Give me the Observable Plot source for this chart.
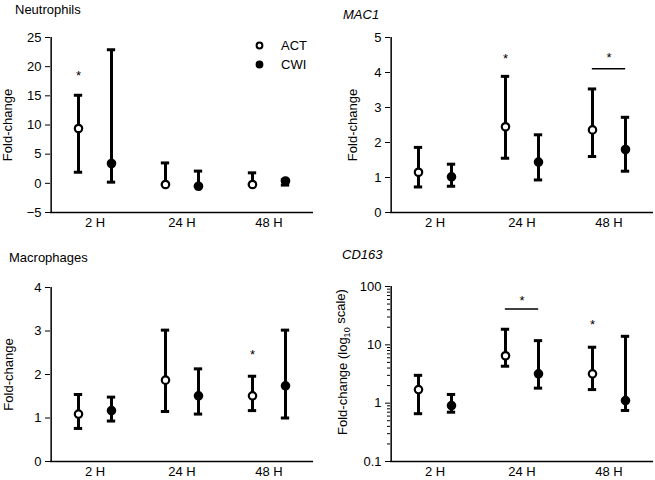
<!DOCTYPE html>
<html><head><meta charset="utf-8">
<script src="https://cdn.jsdelivr.net/npm/d3@7"></script>
<script src="https://cdn.jsdelivr.net/npm/@observablehq/plot@0.6"></script>
<style>
body{margin:0;background:#fff;font-family:"Liberation Sans",Arial,sans-serif;}
#chart{position:relative;width:655px;height:480px;overflow:hidden;}
.panel{position:absolute;}
.title{position:absolute;font-size:13px;line-height:15px;color:#000;white-space:nowrap;}
.legend{position:absolute;font-size:13px;color:#000;}
.legend div{display:flex;align-items:center;height:19px;}
.legend svg{margin-right:17px;}
</style></head><body><div id="chart"></div>
<script>
const groups = ["2 H", "24 H", "48 H"];
const seriesNames = ["ACT", "CWI"];

// Neutrophils (fold-change)
const neuActMean = [9.4, -0.2, -0.2];
const neuActLow  = [1.9, -0.2, -0.2];
const neuActHigh = [15.1, 3.5, 1.8];
const neuCwiMean = [3.4, -0.5, 0.4];
const neuCwiLow  = [0.2, -0.5, -0.3];
const neuCwiHigh = [22.9, 2.1, 0.6];
const neuStars = [{group: "2 H", series: "ACT", y: 19}];
const neuBars = [];

// MAC1
const macActMean = [1.15, 2.45, 2.36];
const macActLow  = [0.73, 1.55, 1.6];
const macActHigh = [1.86, 3.89, 3.53];
const macCwiMean = [1.02, 1.44, 1.8];
const macCwiLow  = [0.75, 0.93, 1.18];
const macCwiHigh = [1.38, 2.22, 2.72];
const macStars = [{group: "24 H", series: "ACT", y: 4.48}, {group: "48 H", series: "both", y: 4.5}];
const macBars = [{group: "48 H", y: 4.11}];

// Macrophages
const mphActMean = [1.09, 1.87, 1.51];
const mphActLow  = [0.76, 1.15, 1.17];
const mphActHigh = [1.54, 3.02, 1.96];
const mphCwiMean = [1.17, 1.51, 1.74];
const mphCwiLow  = [0.93, 1.09, 1.0];
const mphCwiHigh = [1.48, 2.13, 3.02];
const mphStars = [{group: "48 H", series: "ACT", y: 2.52}];
const mphBars = [];

// CD163 (log scale)
const cdActMean = [1.71, 6.5, 3.18];
const cdActLow  = [0.66, 4.3, 1.71];
const cdActHigh = [3.0, 18.5, 9.1];
const cdCwiMean = [0.91, 3.18, 1.11];
const cdCwiLow  = [0.70, 1.81, 0.75];
const cdCwiHigh = [1.41, 11.8, 14.0];
const cdStars = [{group: "24 H", series: "both", y: 65}, {group: "48 H", series: "ACT", y: 25}];
const cdBars = [{group: "24 H", y: 41}];

const linTicksNeu = [-5, 0, 5, 10, 15, 20, 25];
const linTicksMac = [0, 1, 2, 3, 4, 5];
const linTicksMph = [0, 1, 2, 3, 4];
const logTicks = [0.1, 1, 10, 100];
const logMinor = [0.2,0.3,0.4,0.5,0.6,0.7,0.8,0.9,2,3,4,5,6,7,8,9,20,30,40,50,60,70,80,90];

function rowsFrom(am, al, ah, cm, cl, ch) {
  const rows = [];
  groups.forEach((g, i) => {
    rows.push({group: g, series: "ACT", mean: am[i], low: al[i], high: ah[i]});
    rows.push({group: g, series: "CWI", mean: cm[i], low: cl[i], high: ch[i]});
  });
  return rows;
}

const OFF = {ACT: -16.5, CWI: 16.5, both: 0};
const intFmt = d => d < 0 ? "\u2212" + Math.abs(d) : String(d);

function panel(cfg) {
  const {width, height, ml, mr, mt, mb, yDomain, yType, ticks, minor, tickFormat, label, labelOffset, rows, stars, bars} = cfg;
  const bw = (width - ml - mr) / 3;
  const marks = [];
  marks.push(Plot.ruleY([yDomain[0]], {strokeWidth: 1.5}));
  marks.push(Plot.ruleX([groups[0]], {x: d => d, y1: yDomain[0], y2: yDomain[1], dx: -bw / 2, strokeWidth: 1.5}));
  for (const s of seriesNames) {
    const d = rows.filter(r => r.series === s);
    const dx = OFF[s];
    const capInset = (bw - 9) / 2;
    marks.push(Plot.ruleX(d, {x: "group", y1: "low", y2: "high", dx, strokeWidth: 3}));
    marks.push(Plot.tickY(d, {x: "group", y: "high", dx, insetLeft: capInset, insetRight: capInset, strokeWidth: 3}));
    marks.push(Plot.tickY(d, {x: "group", y: "low", dx, insetLeft: capInset, insetRight: capInset, strokeWidth: 3}));
    marks.push(Plot.dot(d, {x: "group", y: "mean", dx, r: 3.7, stroke: "black", strokeWidth: 2.2, fill: s === "ACT" ? "white" : "black"}));
  }
  for (const s of ["ACT", "CWI", "both"]) {
    const d = stars.filter(r => r.series === s);
    if (d.length) marks.push(Plot.text(d, {x: "group", y: "y", text: () => "*", dx: OFF[s], dy: 3, fontSize: 13}));
  }
  if (bars.length) {
    const bi = (bw - 34) / 2;
    marks.push(Plot.tickY(bars, {x: "group", y: "y", insetLeft: bi, insetRight: bi, strokeWidth: 1.5}));
  }
  marks.push(Plot.axisY({ticks, tickSize: 5, tickPadding: 4, tickFormat: tickFormat || intFmt, label, labelAnchor: "center", labelArrow: "none", labelOffset, fontSize: 13}));
  if (minor) marks.push(Plot.axisY({ticks: minor, tickSize: 3, tickFormat: () => "", label: null}));
  marks.push(Plot.axisX({tickSize: 0, tickPadding: 5, label: null, fontSize: 13}));
  const svg = Plot.plot({
    width, height,
    marginLeft: ml, marginRight: mr, marginTop: mt, marginBottom: mb,
    style: "font-family: 'Liberation Sans', Arial, sans-serif; font-size: 13px; color: black; background: white; overflow: visible;",
    x: {type: "band", domain: groups, padding: 0},
    y: {type: yType, domain: yDomain},
    marks
  });
  svg.setAttribute("font-size", "13");
  return svg;
}

const chart = document.getElementById("chart");
function place(el, left, top) {
  el.classList.add("panel");
  el.style.left = left + "px";
  el.style.top = top + "px";
  chart.appendChild(el);
  return el;
}
function title(text, left, top, italic) {
  const t = document.createElement("div");
  t.className = "title";
  t.textContent = text;
  t.style.left = left + "px";
  t.style.top = top + "px";
  if (italic) t.style.fontStyle = "italic";
  chart.appendChild(t);
}

place(panel({width: 327, height: 240, ml: 50, mr: 14, mt: 37, mb: 28, yDomain: [-5, 25], yType: "linear",
  ticks: linTicksNeu, label: "Fold-change", labelOffset: 48,
  rows: rowsFrom(neuActMean, neuActLow, neuActHigh, neuCwiMean, neuCwiLow, neuCwiHigh), stars: neuStars, bars: neuBars}), 0, 0);

place(panel({width: 328, height: 240, ml: 63, mr: 2, mt: 37, mb: 28, yDomain: [0, 5], yType: "linear",
  ticks: linTicksMac, label: "Fold-change", labelOffset: 43,
  rows: rowsFrom(macActMean, macActLow, macActHigh, macCwiMean, macCwiLow, macCwiHigh), stars: macStars, bars: macBars}), 327, 0);

place(panel({width: 327, height: 240, ml: 50, mr: 14, mt: 47, mb: 19, yDomain: [0, 4], yType: "linear",
  ticks: linTicksMph, label: "Fold-change", labelOffset: 47,
  rows: rowsFrom(mphActMean, mphActLow, mphActHigh, mphCwiMean, mphCwiLow, mphCwiHigh), stars: mphStars, bars: mphBars}), 0, 240);

const p4 = place(panel({width: 328, height: 240, ml: 63, mr: 2, mt: 46, mb: 19, yDomain: [0.1, 100], yType: "log",
  ticks: logTicks, minor: logMinor, tickFormat: d => String(d), label: "Fold-change (log10 scale)", labelOffset: 53,
  rows: rowsFrom(cdActMean, cdActLow, cdActHigh, cdCwiMean, cdCwiLow, cdCwiHigh), stars: cdStars, bars: cdBars}), 327, 240);

// subscript in the log-scale axis label
d3.select(p4).selectAll("text").filter(function() { return this.textContent === "Fold-change (log10 scale)"; })
  .each(function() {
    const t = d3.select(this);
    t.text("");
    t.attr("dx", 12);
    t.append("tspan").text("Fold-change (log");
    t.append("tspan").attr("dy", "0.35em").attr("font-size", "9px").text("10");
    t.append("tspan").attr("dy", "-0.35em").text(" scale)");
  });

title("Neutrophils", 15, 2, false);
title("MAC1", 343, 7, true);
title("Macrophages", 9, 250, false);
title("CD163", 342, 247, true);

// legend
const lg = document.createElement("div");
lg.className = "legend";
lg.style.left = "255px";
lg.style.top = "36px";
seriesNames.forEach(s => {
  const row = document.createElement("div");
  row.innerHTML = `<svg width="9" height="9"><circle cx="4.5" cy="4.5" r="2.9" stroke="black" stroke-width="2" fill="${s === "ACT" ? "white" : "black"}"/></svg><span>${s}</span>`;
  lg.appendChild(row);
});
chart.appendChild(lg);
</script></body></html>
